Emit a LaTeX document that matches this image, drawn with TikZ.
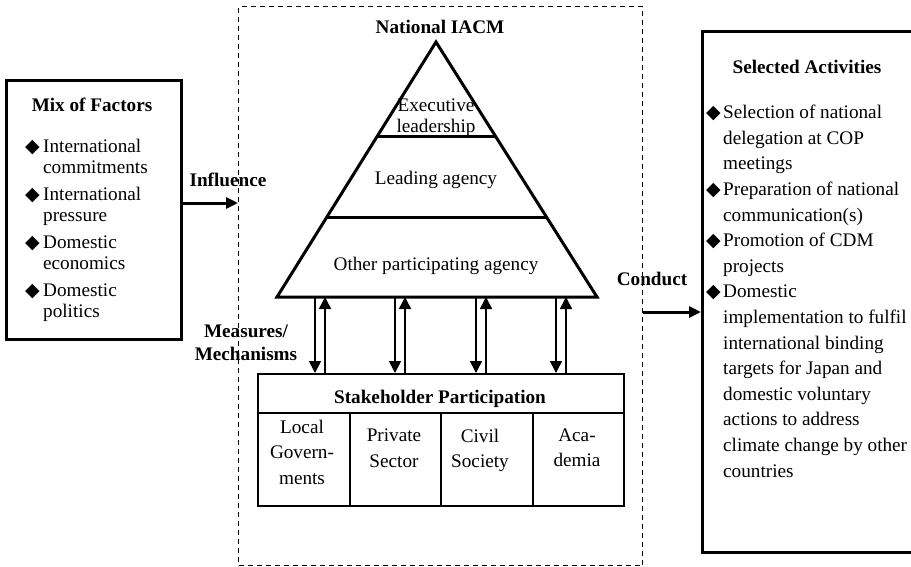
\documentclass[tikz,border=0pt]{standalone}
\usepackage{fontspec}
\setmainfont{Liberation Serif}
\newfontfamily\symfont{DejaVu Sans}
\usetikzlibrary{arrows.meta,calc}
\newcommand{\dia}{{\symfont\fontsize{19}{19}\selectfont ◆}}

\begin{document}
\begin{tikzpicture}[x=1pt, y=-1pt,
    font=\fontsize{19.2}{25.6}\selectfont,
    bigbox/.style={draw, line width=3.2pt, inner sep=0pt, anchor=north west},
    head/.style={font=\fontsize{19.2}{25.6}\selectfont\bfseries, anchor=base, inner sep=0pt},
    tier/.style={anchor=base, inner sep=0pt},
    cell/.style={draw, line width=2.2pt, minimum width=91.5pt, minimum height=93pt, anchor=north west, inner sep=0pt},
    celltext/.style={align=center, anchor=north, inner sep=0pt},
    flow/.style={line width=3pt, -{Triangle[length=12pt,width=11pt]}},
    link/.style={line width=1.6pt, -{Triangle[length=12pt,width=12pt]}},
    tri/.style={line width=3pt, line join=miter}]
\useasboundingbox (0,0) rectangle (911,566);
\clip (0,0) rectangle (911,566);

% frames
\node[draw, dash pattern=on 5pt off 4pt, line width=1.2pt, minimum width=404pt, minimum height=559pt, anchor=north west, inner sep=0pt] (iacm) at (238,6) {};
\node[bigbox, minimum width=175pt, minimum height=259pt] (factors) at (5,79) {};
\node[bigbox, minimum width=320pt, minimum height=521pt] (acts) at (701,30) {};

% left box
\node[head] (factorstitle) at (92,111) {Mix of Factors};
\node[anchor=north west, inner sep=0pt, font=\fontsize{19.2}{21.5}\selectfont] (factorlist) at (25,137) {%
\begin{tabular}{@{}l@{}l@{}}
\makebox[18pt][l]{\dia} & International\\
 & commitments\\[5pt]
\dia & International\\
 & pressure\\[5pt]
\dia & Domestic\\
 & economics\\[5pt]
\dia & Domestic\\
 & politics
\end{tabular}};

% right box
\node[head] (actstitle) at (807,73) {Selected Activities};
\node[anchor=north west, inner sep=0pt] (actlist) at (706,100.6) {%
\begin{tabular}{@{}l@{}l@{}}
\makebox[17pt][l]{\dia} & Selection of national\\
 & delegation at COP\\
 & meetings\\
\dia & Preparation of national\\
 & communication(s)\\
\dia & Promotion of CDM\\
 & projects\\
\dia & Domestic\\
 & implementation to fulfil\\
 & international binding\\
 & targets for Japan and\\
 & domestic voluntary\\
 & actions to address\\
 & climate change by other\\
 & countries
\end{tabular}};

% pyramid
\node[head] (iacmtitle) at (440,33) {National IACM};
\coordinate (apex) at (436,42);
\coordinate (bl) at (277,297);
\coordinate (br) at (597,297);
\draw[tri] (apex) -- (bl) -- (br) -- cycle;
\draw[tri] ($(apex)!0.3725!(bl)$) -- ($(apex)!0.3725!(br)$);
\draw[tri] ($(apex)!0.69!(bl)$) -- ($(apex)!0.69!(br)$);
\node[align=center, inner sep=0pt, font=\fontsize{19.2}{21}\selectfont] (exec) at (436,117.5) {Executive\\leadership};
\node[tier] (lead) at (436,184.5) {Leading agency};
\node[tier] (other) at (436,270) {Other participating agency};

% stakeholders
\node[draw, line width=2.2pt, minimum width=366pt, minimum height=39pt, anchor=north west, inner sep=0pt] (sphead) at (257,373) {};
\node[head] (sptitle) at (440,403) {Stakeholder Participation};
\node[cell] (local) at (257,412) {};
\node[cell] (private) at (348.5,412) {};
\node[cell] (civil) at (440,412) {};
\node[cell] (academia) at (531.5,412) {};
\node[celltext] (localtext) at (302,419.5) {Local\\Govern-\\ments};
\node[celltext] (privatetext) at (394,428.5) {Private\\Sector};
\node[celltext] (civiltext) at (480,428.5) {Civil\\Society};
\node[celltext] (academiatext) at (577,428.5) {Aca-\\demia};

\foreach \x [count=\i] in {315,395,476,556}{
  \coordinate (down\i) at (\x,297);
  \coordinate (up\i) at (\x+10,297);
  \draw[link] (down\i) -- (down\i |- sphead.north);
  \draw[link] (up\i |- sphead.north) -- (up\i);
}
\node[align=center, inner sep=0pt, font=\fontsize{19.2}{23}\selectfont\bfseries] (measures) at (246,342.5) {Measures/\\Mechanisms};

% influence and conduct
\node[head] (influence) at (228,186) {Influence};
\draw[flow] (factors.east |- 0,203) -- (iacm.west |- 0,203);
\node[head] (conduct) at (652,285) {Conduct};
\draw[flow] (iacm.east |- 0,312) -- (acts.west |- 0,312);

\end{tikzpicture}
\end{document}
